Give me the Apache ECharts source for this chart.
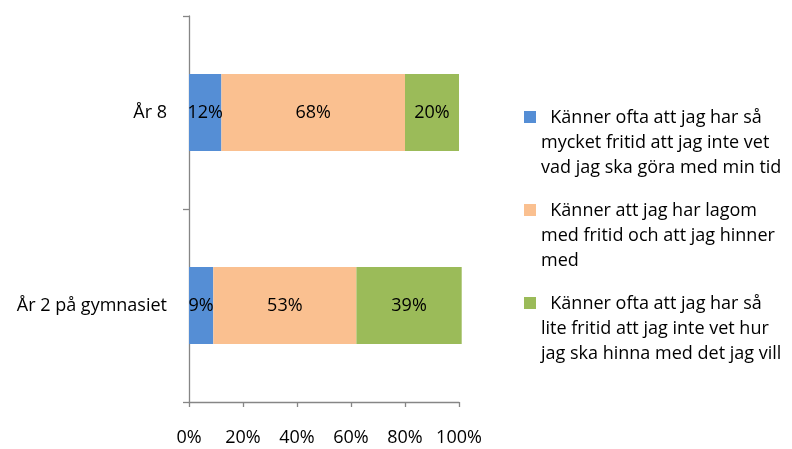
<!DOCTYPE html>
<html>
<head>
<meta charset="utf-8">
<script src="https://cdn.jsdelivr.net/npm/echarts@6/dist/echarts.min.js"></script>
<style>
  html, body { margin: 0; padding: 0; background: #fff; }
  #chart { width: 792px; height: 449px; }
</style>
</head>
<body>
<div id="chart"></div>
<script>
// kategorier (uppifrån och ned)
const categories = ["År 8", "År 2 på gymnasiet"];
// serienamn, radbrutna som i förlagan
const seriesNames = [
  "  Känner ofta att jag har så\nmycket fritid att jag inte vet\nvad jag ska göra med min tid",
  "  Känner att jag har lagom\nmed fritid och att jag hinner\nmed",
  "  Känner ofta att jag har så\nlite fritid att jag inte vet hur\njag ska hinna med det jag vill"
];
// andelar i procent per kategori
const mycketFritid = [12, 9];
const lagomFritid = [68, 53];
const liteFritid = [20, 39];
const xTicks = [0, 20, 40, 60, 80, 100];

const colors = ["#558ED5", "#FAC090", "#9BBB59"];
const font = "Open Sans";
const fontSize = 18;

// legend-ikon: liten kvadrat överst i en hög ruta, så att den hamnar vid första textraden
const legendIcon = "path://M0,0L12,0L12,0.01ZM0,6L12,6L12,18L0,18ZM0,75L12,75L12,75.01Z";

const chart = echarts.init(document.getElementById("chart"));

const makeSeries = (name, data, color) => ({
  name: name,
  type: "bar",
  stack: "total",
  data: data,
  barWidth: "40%",
  clip: false,
  itemStyle: { color: color },
  label: {
    show: true,
    position: "inside",
    formatter: "{c}%",
    color: "#000",
    fontFamily: font,
    fontSize: fontSize
  }
});

chart.setOption({
  animation: false,
  textStyle: { fontFamily: font },
  grid: { left: 189, top: 16, width: 270, height: 386 },
  legend: {
    orient: "vertical",
    left: 524,
    top: 105,
    padding: 0,
    itemGap: 18,
    itemWidth: 12,
    itemHeight: 75,
    icon: legendIcon,
    data: seriesNames,
    textStyle: {
      color: "#000",
      fontFamily: font,
      fontSize: fontSize,
      lineHeight: 25
    }
  },
  xAxis: {
    type: "value",
    min: xTicks[0],
    max: xTicks[xTicks.length - 1],
    interval: 20,
    splitLine: { show: false },
    axisLine: { show: true, lineStyle: { color: "#868686", width: 1.3 } },
    axisTick: { show: true, length: 5, lineStyle: { color: "#868686", width: 1.3 } },
    axisLabel: {
      formatter: "{value}%",
      color: "#000",
      fontFamily: font,
      fontSize: fontSize,
      margin: 27
    }
  },
  yAxis: {
    type: "category",
    inverse: true,
    data: categories,
    axisLine: { show: true, lineStyle: { color: "#868686", width: 1.3 } },
    axisTick: { show: true, length: 6, lineStyle: { color: "#868686", width: 1.3 } },
    axisLabel: {
      color: "#000",
      fontFamily: font,
      fontSize: fontSize,
      margin: 22
    }
  },
  series: [
    makeSeries(seriesNames[0], mycketFritid, colors[0]),
    makeSeries(seriesNames[1], lagomFritid, colors[1]),
    makeSeries(seriesNames[2], liteFritid, colors[2])
  ]
});
</script>
</body>
</html>
